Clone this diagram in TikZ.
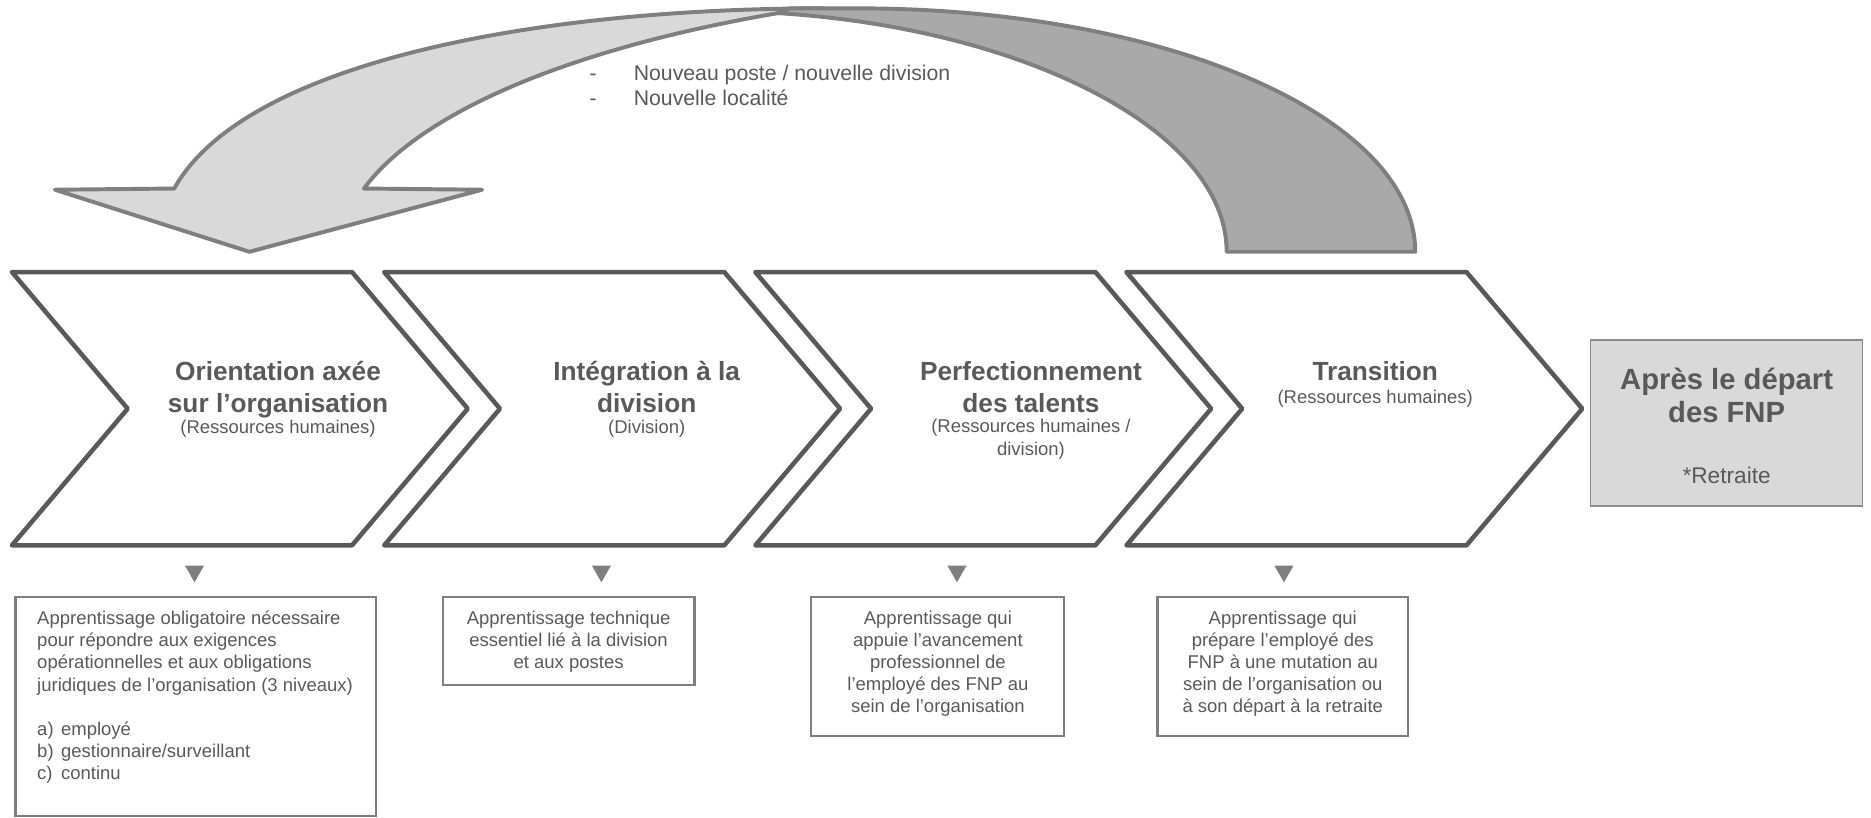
\documentclass[tikz,border=0pt]{standalone}
\usepackage{fontspec}
\setmainfont{Liberation Sans}
\definecolor{cgray}{HTML}{595959}
\definecolor{agray}{HTML}{7F7F7F}
\definecolor{lfill}{HTML}{D9D9D9}
\definecolor{dfill}{HTML}{A9A9A9}
\definecolor{bgray}{HTML}{8C8C8C}
\begin{document}
\begin{tikzpicture}[x=1pt,y=-1pt,
  chev/.style={draw=cgray, line width=3.8pt, line join=round},
  arr/.style={draw=agray, line width=3.3pt, line join=round},
  lbox/.style={draw=agray, line width=1.8pt},
  tri/.style={fill=agray},
  txt/.style={text=cgray, inner sep=0pt},
  ttl/.style={txt, font=\bfseries\fontsize{22}{27}\selectfont, align=center, anchor=north},
  sub/.style={txt, font=\fontsize{15.5}{19}\selectfont, align=center, anchor=north},
  body/.style={txt, font=\fontsize{15.5}{18.5}\selectfont, anchor=north},
]
\useasboundingbox (0,0) rectangle (1568,685);

% curved arrow: front (light) band with arrowhead
\path[arr, fill=lfill] (46,159) -- (146,158)
  .. controls (205,52) and (450,7) .. (690,7)
  -- (652,11)
  .. controls (470,42) and (350,97) .. (305,158)
  -- (404,159) -- (209,211) -- cycle;
% back (dark) band
\path[arr, fill=dfill] (1028,211) -- (1186,211)
  .. controls (1186,98) and (977,7) .. (719,7)
  -- (662,7) -- (652,11)
  .. controls (860,24) and (1028,110) .. (1028,211) -- cycle;

\node[txt, font=\fontsize{17.8}{21}\selectfont, anchor=north west, align=left] (change) at (494,54)
  {\makebox[37pt][l]{-}Nouveau poste / nouvelle division\\\makebox[37pt][l]{-}Nouvelle localité};

% chevrons
\foreach \x in {10,322,633,944}{
  \draw[chev] (\x,228) -- ++(285,0) -- ++(97,114.5) -- ++(-97,114.5) -- ++(-285,0) -- ++(97,-114.5) -- cycle;
}

\node[ttl] (t1) at (233,302.5) {Orientation axée\\sur l’organisation};
\node[sub] (s1) at (233,352) {(Ressources humaines)};
\node[ttl] (t2) at (542,302.5) {Intégration à la\\division};
\node[sub] (s2) at (542,352) {(Division)};
\node[ttl] (t3) at (864,302.5) {Perfectionnement\\des talents};
\node[sub] (s3) at (864,351) {(Ressources humaines /\\division)};
\node[ttl] (t4) at (1152.5,302.5) {Transition};
\node[sub] (s4) at (1152.5,327) {(Ressources humaines)};

% after departure box
\path[draw=bgray, line width=1.2pt, fill=lfill] (1333,285) rectangle (1561,424);
\node[txt, font=\bfseries\fontsize{24.5}{27}\selectfont, align=center, anchor=north] (apres) at (1447,308.5) {Après le départ\\des FNP};
\node[txt, font=\fontsize{19}{22}\selectfont, anchor=north] (retraite) at (1447,391) {*Retraite};

% triangles
\foreach \cx in {163,504,802,1076}{
  \path[tri] (\cx-8,474) -- (\cx+8,474) -- (\cx,488) -- cycle;
}

% learning boxes
\path[lbox] (13,500) rectangle (315,684);
\node[body, anchor=north west, align=left] (b1) at (31,512)
  {Apprentissage obligatoire nécessaire\\pour répondre aux exigences\\opérationnelles et aux obligations\\juridiques de l’organisation (3 niveaux)\\[18.5pt]\makebox[20pt][l]{a)}employé\\\makebox[20pt][l]{b)}gestionnaire/surveillant\\\makebox[20pt][l]{c)}continu};

\path[lbox] (371,500) rectangle (582,574);
\node[body, align=center] (b2) at (476.5,512)
  {Apprentissage technique\\essentiel lié à la division\\et aux postes};

\path[lbox] (680,500) rectangle (892,617);
\node[body, align=center] (b3) at (786,512)
  {Apprentissage qui\\appuie l’avancement\\professionnel de\\l’employé des FNP au\\sein de l’organisation};

\path[lbox] (970,500) rectangle (1180,617);
\node[body, align=center] (b4) at (1075,512)
  {Apprentissage qui\\prépare l’employé des\\FNP à une mutation au\\sein de l’organisation ou\\à son départ à la retraite};
\end{tikzpicture}
\end{document}
